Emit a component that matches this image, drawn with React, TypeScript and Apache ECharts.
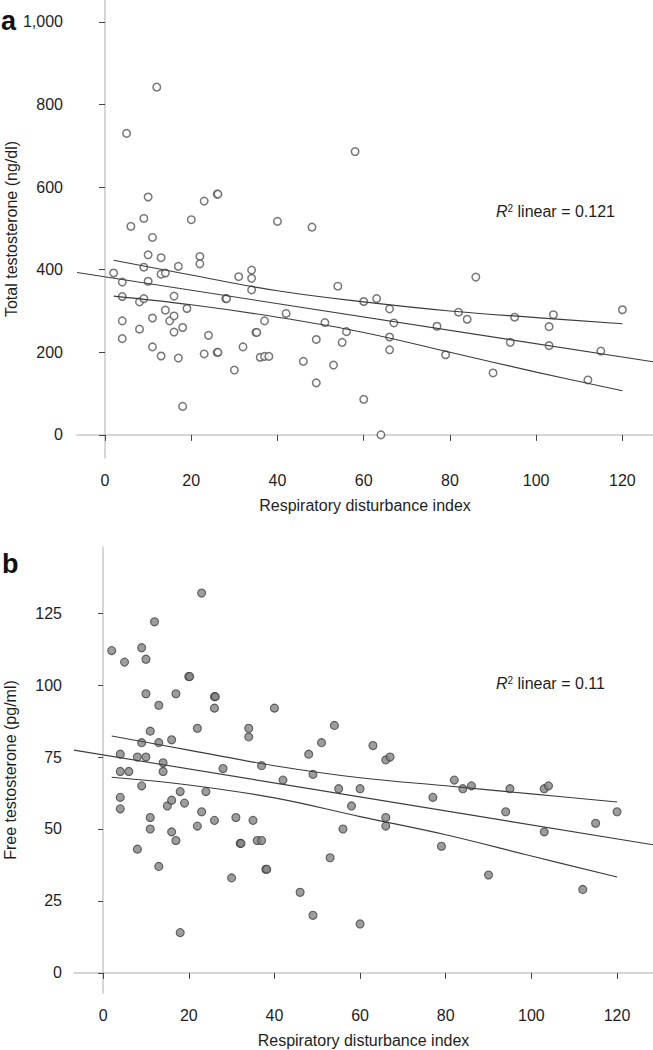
import React, { useEffect, useRef } from "react";
import * as echarts from "echarts";

// ---------- Data ----------
const xTicks = [0, 20, 40, 60, 80, 100, 120];
const yTicksTotal = [0, 200, 400, 600, 800, 1000];
const yTicksFree = [0, 25, 50, 75, 100, 125];

// Panel a: total testosterone (ng/dl) vs respiratory disturbance index
const totalT: number[][] = [
  [2, 392], [4, 370], [4, 335], [4, 276], [4, 233], [5, 730], [6, 505], [8, 322], [8, 256],
  [9, 406], [9, 330], [9, 524], [10, 436], [10, 372], [10, 576], [11, 478], [11, 283], [11, 213],
  [12, 842], [13, 429], [13, 389], [13, 191], [14, 392], [14, 302], [15, 276], [16, 336], [16, 288],
  [16, 249], [17, 408], [17, 186], [18, 260], [18, 69], [19, 306], [20, 521], [22, 432], [22, 414],
  [23, 196], [23, 566], [24, 241], [26, 200], [26.2, 200], [26, 583], [26.2, 583], [28, 330], [28.2, 330],
  [30, 157], [31, 383], [32, 213], [34, 399], [34, 379], [34, 351], [35, 248], [35.2, 248], [36, 188],
  [37, 190], [38, 190], [37, 276], [40, 517], [42, 294], [46, 178], [48, 503], [49, 231], [49, 126],
  [51, 272], [53, 169], [54, 360], [55, 224], [56, 250], [58, 686], [60, 323], [60, 86], [63, 330],
  [64, 0], [66, 305], [66, 237], [66, 206], [67, 271], [77, 263], [79, 194], [82, 297], [84, 280],
  [86, 382], [90, 150], [94, 224], [95, 285], [103, 262], [103, 216], [104, 291], [112, 133],
  [115, 203], [120, 303],
];
const totalFit = [[-6.5, 393], [127.1, 177]];
const totalUpper = [[2, 423], [20, 387], [40, 349], [60, 322], [80, 300], [100, 284], [120, 269]];
const totalLower = [[2, 336], [20, 315], [40, 285], [60, 248], [80, 200], [100, 152], [120, 107]];

// Panel b: free testosterone (pg/ml) vs respiratory disturbance index
const freeT: number[][] = [
  [2, 112], [5, 108], [9, 113], [10, 109], [10, 97], [12, 122], [13, 93], [11, 84], [9, 80],
  [13, 80], [16, 81], [17, 97], [20, 103], [20.2, 103], [23, 132], [22, 85], [26, 96], [26.2, 96],
  [26, 92], [34, 85], [34, 82], [40, 92], [4, 76], [4, 70], [6, 70], [8, 75], [10, 75], [14, 73],
  [14, 70], [28, 71], [37, 72], [42, 67], [48, 76], [49, 69], [51, 80], [9, 65], [4, 61], [4, 57],
  [11, 54], [11, 50], [8, 43], [13, 37], [15, 58], [16, 60], [16, 49], [17, 46], [18, 63], [19, 59],
  [18, 14], [22, 51], [23, 56], [24, 63], [26, 53], [30, 33], [31, 54], [32, 45], [32.2, 45],
  [35, 53], [36, 46], [37, 46], [38, 36], [38.2, 36], [46, 28], [49, 20], [53, 40], [54, 86],
  [63, 79], [66, 74], [67, 75], [55, 64], [60, 64], [58, 58], [56, 50], [66, 54], [66, 51],
  [77, 61], [79, 44], [82, 67], [84, 64], [86, 65], [90, 34], [95, 64], [94, 56], [103, 64],
  [104, 65], [103, 49], [112, 29], [115, 52], [120, 56], [60, 17],
];
const freeFit = [[-6.8, 77.4], [128.4, 44.5]];
const freeUpper = [[2, 82.3], [20, 77.4], [40, 72], [60, 67.8], [80, 65], [100, 62.2], [120, 59.4]];
const freeLower = [[2, 68], [20, 65.3], [40, 60.8], [60, 54.3], [80, 48], [100, 40.6], [120, 33.3]];

const xNameText = "Respiratory disturbance index";
const yNameTotal = "Total testosterone (ng/dl)";
const yNameFree = "Free testosterone (pg/ml)";
const r2Total = "0.121";
const r2Free = "0.11";

// ---------- Styles ----------
const FONT = "Liberation Sans, Arial, Helvetica, sans-serif";
const TEXT = "#1e1e1e";
const FRAME = "#c9c9c9";
const TICK = "#444";
const LINE = "#3c3c3c";

export default function App() {
  const ref = useRef<HTMLDivElement>(null);

  useEffect(() => {
    if (!ref.current) return;
    const chart = echarts.init(ref.current, null, { renderer: "svg" });

    const mainX = (grid: number, min: number, max: number) => ({
      type: "value",
      gridIndex: grid,
      min,
      max,
      offset: 2,
      name: xNameText,
      nameLocation: "middle",
      nameGap: 37,
      nameMoveOverlap: false,
      nameTextStyle: { fontFamily: FONT, fontSize: 16, color: TEXT },
      axisLine: { show: false },
      axisTick: { show: true, length: 6, customValues: xTicks, lineStyle: { color: TICK, width: 1 } },
      axisLabel: { customValues: xTicks, margin: 12, fontFamily: FONT, fontSize: 16, color: TEXT },
      splitLine: { show: false },
    });
    const frameX = (grid: number, min: number, max: number) => ({
      type: "value",
      gridIndex: grid,
      min,
      max,
      axisLine: { show: true, lineStyle: { color: FRAME, width: 1.5 } },
      axisTick: { show: false },
      axisLabel: { show: false },
      splitLine: { show: false },
    });
    const mainY = (grid: number, min: number, max: number, ticks: number[], name: string, offset: number, tlen: number, margin: number, gap: number) => ({
      type: "value",
      gridIndex: grid,
      min,
      max,
      offset,
      name,
      nameLocation: "middle",
      nameGap: gap,
      nameMoveOverlap: false,
      nameTextStyle: { fontFamily: FONT, fontSize: 16, color: TEXT },
      axisLine: { show: false },
      axisTick: { show: true, length: tlen, customValues: ticks, lineStyle: { color: TICK, width: 1 } },
      axisLabel: {
        customValues: ticks,
        margin,
        fontFamily: FONT,
        fontSize: 16,
        color: TEXT,
        formatter: (v: number) => v.toLocaleString("en-US"),
      },
      splitLine: { show: false },
    });
    const frameY = (grid: number, min: number, max: number) => ({
      type: "value",
      gridIndex: grid,
      min,
      max,
      axisLine: { show: true, lineStyle: { color: FRAME, width: 1.5 } },
      axisTick: { show: false },
      axisLabel: { show: false },
      splitLine: { show: false },
    });

    const lineSeries = (data: number[][], xi: number, yi: number, smooth: boolean) => ({
      type: "line",
      xAxisIndex: xi,
      yAxisIndex: yi,
      data,
      smooth: smooth ? 0.4 : false,
      showSymbol: false,
      silent: true,
      z: 3,
      lineStyle: { color: LINE, width: 1.1 },
    });

    const option = {
      animation: false,
      grid: [
        { left: 77, top: 0, width: 576, height: 458, containLabel: false, outerBoundsMode: "none" },
        { left: 74, top: 547, width: 579, height: 446, containLabel: false, outerBoundsMode: "none" },
      ],
      xAxis: [
        mainX(0, -6.5, 127.1),
        frameX(0, -6.5, 127.1),
        mainX(1, -6.8, 128.4),
        frameX(1, -6.8, 128.4),
      ],
      yAxis: [
        mainY(0, -56, 1053, yTicksTotal, yNameTotal, 3, 6, 11, 55),
        frameY(0, -56, 1053),
        mainY(1, -7, 148, yTicksFree, yNameFree, 2, 5, 10, 54),
        frameY(1, -7, 148),
      ],
      series: [
        {
          type: "scatter",
          xAxisIndex: 0,
          yAxisIndex: 0,
          data: totalT,
          symbol: "circle",
          symbolSize: 7.5,
          z: 2,
          itemStyle: { color: "#ffffff", borderColor: "#555", borderWidth: 1.5 },
        },
        lineSeries(totalFit, 0, 0, false),
        lineSeries(totalUpper, 0, 0, true),
        lineSeries(totalLower, 0, 0, true),
        {
          type: "scatter",
          xAxisIndex: 2,
          yAxisIndex: 2,
          data: freeT,
          symbol: "circle",
          symbolSize: 8,
          z: 2,
          itemStyle: { color: "#858585", borderColor: "#3f3f3f", borderWidth: 1.1 },
        },
        lineSeries(freeFit, 2, 2, false),
        lineSeries(freeUpper, 2, 2, true),
        lineSeries(freeLower, 2, 2, true),
      ],
      graphic: [
        {
          type: "text",
          x: 1,
          y: 20.5,
          style: { text: "a", font: `bold 27px ${FONT}`, fill: "#111", verticalAlign: "middle" },
        },
        {
          type: "text",
          x: 2,
          y: 563.5,
          style: { text: "b", font: `bold 27px ${FONT}`, fill: "#111", verticalAlign: "middle" },
        },
        {
          type: "text",
          x: 496,
          y: 211,
          style: {
            text: `{i|R}{s|2} linear = ${r2Total}`,
            font: `16px ${FONT}`,
            fill: TEXT,
            verticalAlign: "middle",
            rich: {
              i: { fontStyle: "italic", fontSize: 16, fontFamily: FONT, fill: TEXT },
              s: { fontSize: 10, fontFamily: FONT, fill: TEXT, verticalAlign: "top", padding: [0, 0, 0, 0] },
            },
          },
        },
        {
          type: "text",
          x: 496,
          y: 683,
          style: {
            text: `{i|R}{s|2} linear = ${r2Free}`,
            font: `16px ${FONT}`,
            fill: TEXT,
            verticalAlign: "middle",
            rich: {
              i: { fontStyle: "italic", fontSize: 16, fontFamily: FONT, fill: TEXT },
              s: { fontSize: 10, fontFamily: FONT, fill: TEXT, verticalAlign: "top", padding: [0, 0, 0, 0] },
            },
          },
        },
      ],
    };

    chart.setOption(option as any);
    return () => chart.dispose();
  }, []);

  return (
    <div
      ref={ref}
      style={{ position: "absolute", left: 0, top: 0, width: 653, height: 1050, background: "#fff" }}
    />
  );
}
